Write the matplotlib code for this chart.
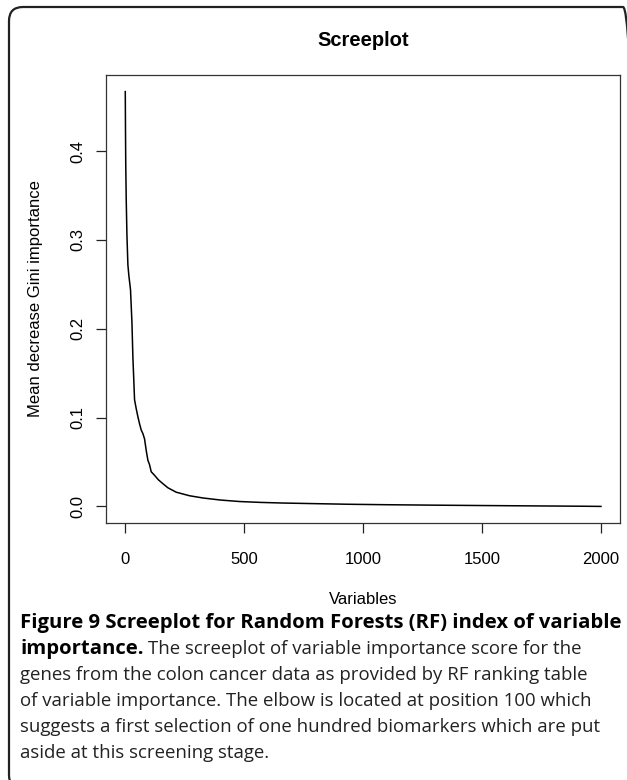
import matplotlib
matplotlib.use("Agg")
import matplotlib.pyplot as plt
from matplotlib.patches import FancyBboxPatch
from matplotlib.transforms import IdentityTransform

# ---- data ----
ranks = [1, 2, 3, 5, 8, 12, 16, 23, 29, 33, 40, 47, 54, 61, 68, 75, 82, 89,
         96, 103, 110, 124, 140, 159, 180, 215, 271, 327, 400, 481, 570, 663,
         800, 943, 1100, 1300, 1490, 1700, 1922, 2000]
importance = [0.467, 0.42, 0.385, 0.345, 0.305, 0.272, 0.26, 0.244, 0.207,
              0.168, 0.120, 0.110, 0.101, 0.093, 0.086, 0.082, 0.076, 0.063,
              0.052, 0.047, 0.039, 0.035, 0.030, 0.0256, 0.021, 0.016, 0.012,
              0.0095, 0.0072, 0.0055, 0.0045, 0.0038, 0.0031, 0.0024, 0.0019,
              0.0014, 0.0010, 0.0006, 0.0002, 0.0]
x_ticks = [0, 500, 1000, 1500, 2000]
y_ticks = [0.0, 0.1, 0.2, 0.3, 0.4]
y_tick_labels = ["0.0", "0.1", "0.2", "0.3", "0.4"]
title = "Screeplot"
x_label = "Variables"
y_label = "Mean decrease Gini importance"
caption_bold_1 = "Figure 9 Screeplot for Random Forests (RF) index of variable"
caption_bold_2 = "importance."
caption_rest_2 = "The screeplot of variable importance score for the"
caption_lines = [
    "genes from the colon cancer data as provided by RF ranking table",
    "of variable importance. The elbow is located at position 100 which",
    "suggests a first selection of one hundred biomarkers which are put",
    "aside at this screening stage.",
]

W, H = 627, 780
fig = plt.figure(figsize=(W / 100, H / 100), dpi=100)
fig.patch.set_facecolor("white")

def fx(px):
    return px / W

def fy(py):
    return 1 - py / H

# outer rounded frame (pixel coordinates, origin bottom-left)
fl, ft, fr, fb = 9, 7, 637, 789
frame = FancyBboxPatch((fl, H - fb), fr - fl, fb - ft,
                       boxstyle="round,pad=0,rounding_size=14",
                       transform=IdentityTransform(), fill=False,
                       edgecolor="#222222", linewidth=1.6, clip_on=False)
fig.patches.append(frame)

ax_l, ax_r, ax_t, ax_b = 106, 620, 75, 523
ax = fig.add_axes([fx(ax_l), fy(ax_b), fx(ax_r) - fx(ax_l), fy(ax_t) - fy(ax_b)])

ax.plot(ranks, importance, color="black", linewidth=1.1)

xmin, xmax = 0, 2000
ymin, ymax = 0, max(importance)
px_ = 0.04 * (xmax - xmin)
py_ = 0.04 * (ymax - ymin)
ax.set_xlim(xmin - px_, xmax + px_)
ax.set_ylim(ymin - py_, ymax + py_)

font = "Liberation Sans"
ax.set_xticks(x_ticks)
ax.set_xticklabels([str(v) for v in x_ticks], fontsize=12, family=font)
ax.set_yticks(y_ticks)
ax.set_yticklabels(y_tick_labels, fontsize=12, family=font, rotation=90, va="center")
ax.tick_params(direction="out", length=7.2, width=0.9, color="#222222")
ax.tick_params(axis="x", pad=13.5)
ax.tick_params(axis="y", pad=7.5)
for s in ax.spines.values():
    s.set_linewidth(0.9)
    s.set_color("#333333")

fig.text(fx(363), fy(40), title, fontsize=14.5, fontweight="bold", family=font,
         ha="center", va="center")
fig.text(fx(363), fy(600), x_label, fontsize=12, family=font, ha="center", va="center")
fig.text(fx(36), fy(299), y_label, fontsize=12, family=font, ha="center",
         va="center", rotation=90)

# caption
cap_font = "Open Sans"
bold_size = 14.6
reg_size = 13.4
x0 = fx(20)
base = [628, 654, 680, 706, 732, 758]
fig.text(x0, fy(base[0]), caption_bold_1, fontsize=bold_size, fontweight="bold",
         family=cap_font, va="baseline", ha="left")
tb = fig.text(x0, fy(base[1]), caption_bold_2, fontsize=bold_size, fontweight="bold",
              family=cap_font, va="baseline", ha="left")
fig.canvas.draw()
bb = tb.get_window_extent(renderer=fig.canvas.get_renderer())
fig.text(bb.x1 / W + fx(5), fy(base[1]), caption_rest_2, fontsize=reg_size,
         family=cap_font, va="baseline", ha="left", color="#222222")
for i, line in enumerate(caption_lines):
    fig.text(x0, fy(base[i + 2]), line, fontsize=reg_size, family=cap_font,
             va="baseline", ha="left", color="#222222")

fig.savefig("out.png", dpi=100)
